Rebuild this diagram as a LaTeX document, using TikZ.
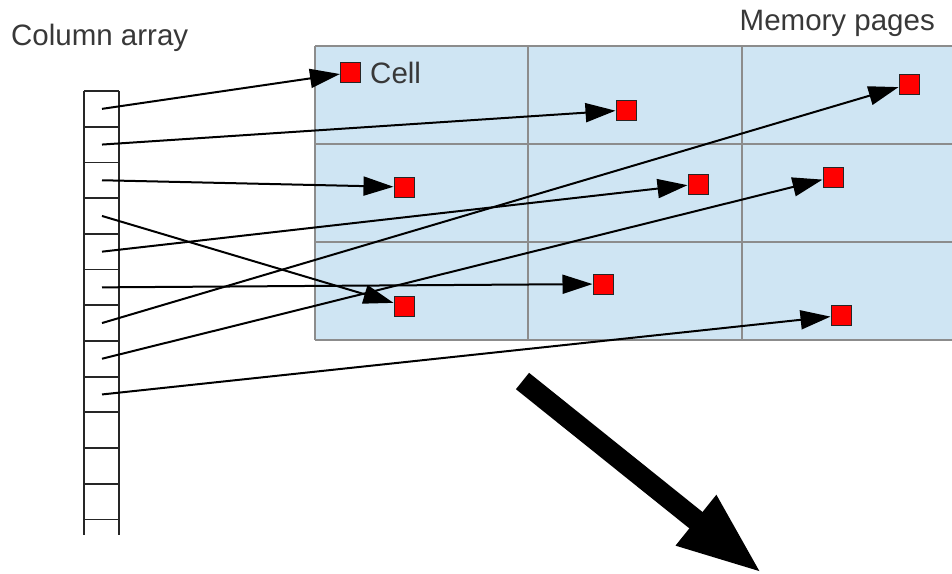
\documentclass[tikz,border=0pt]{standalone}
\usepackage[svgnames]{xcolor}
\usepackage{fontspec}
\setmainfont{Liberation Sans}
\usetikzlibrary{arrows.meta,positioning}
\definecolor{pagefill}{HTML}{CFE5F3}
\definecolor{pageline}{HTML}{8C8C8C}
\colorlet{labeltext}{black!78}
\colorlet{cellred}{Red}

\begin{document}
\begin{tikzpicture}[x=1pt,y=-1pt,
  lbl/.style={text=labeltext,font=\fontsize{29.5}{31}\selectfont,inner sep=0pt},
  cell/.style={draw=black!85,fill=cellred,line width=1pt,minimum size=20pt,inner sep=0pt},
  ref/.style={draw=black,line width=2pt,-{Triangle[length=30pt,width=19pt]}},
  bigarrow/.style={draw=black,line width=21pt,-{Triangle[length=86pt,width=58pt]}}]
\useasboundingbox (0,0) rectangle (952,573);
\fill[pagefill] (315,46) rectangle (960,340);
\foreach \y in {46,144,242,340}
  \draw[pageline,line width=1.3pt] (315,\y) -- (960,\y);
\foreach \x in {315,528,742}
  \draw[pageline,line width=1.3pt] (\x,46) -- (\x,340);
\draw[black!85,line width=1.8pt] (84,91) -- (84,535) (119,91) -- (119,535);
\foreach \i in {0,...,12}
  \draw[black!85,line width=1.8pt] (84,91+35.7*\i) -- (119,91+35.7*\i);
\foreach \i in {1,...,9}
  \coordinate (s\i) at (102,91+35.7*\i-17.85);
\node[lbl,anchor=base west] (coltitle) at (11,45) {Column array};
\node[lbl,anchor=base east] (memtitle) at (935,30) {Memory pages};
\node[cell] (c1) at (350.5,72.5) {};
\node[cell] (c2) at (626,110) {};
\node[cell] (c3) at (404,187) {};
\node[cell] (c4) at (909,84) {};
\node[cell] (c5) at (698,184) {};
\node[cell] (c6) at (833,177) {};
\node[cell] (c7) at (404,306) {};
\node[cell] (c8) at (603,284) {};
\node[cell] (c9) at (841,315.5) {};
\node[lbl,right=9pt of c1] (celltext) {Cell};
\draw[ref] (s1) -- (c1);
\draw[ref] (s2) -- (c2);
\draw[ref] (s3) -- (c3);
\draw[ref] (s4) -- (c7);
\draw[ref] (s5) -- (c5);
\draw[ref] (s6) -- (c8);
\draw[ref] (s7) -- (c4);
\draw[ref] (s8) -- (c6);
\draw[ref] (s9) -- (c9);
\coordinate (from) at (522.5,381);
\coordinate (to) at (763,574);
\draw[bigarrow] (from) -- (to);
\end{tikzpicture}
\end{document}
